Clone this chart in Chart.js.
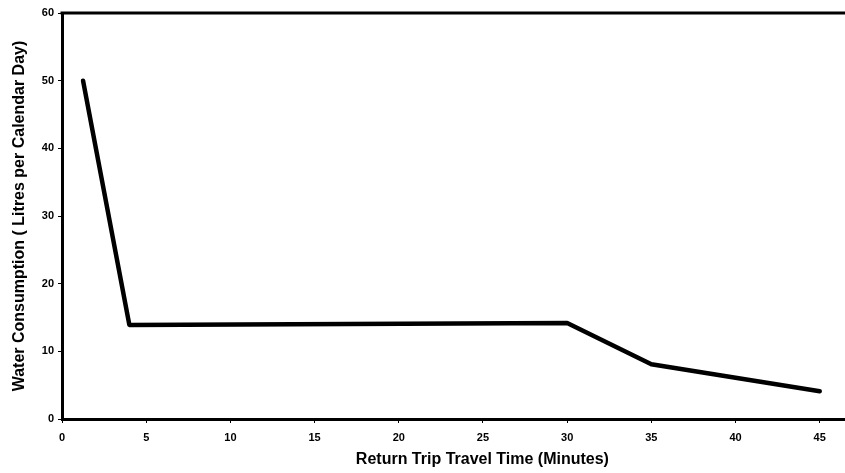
<!DOCTYPE html>
<html>
<head>
<meta charset="utf-8">
<script src="https://cdn.jsdelivr.net/npm/chart.js@4"></script>
<style>
  html, body { margin: 0; padding: 0; background: #fff; }
  #wrap { width: 845px; height: 473px; }
</style>
</head>
<body>
<div id="wrap"><canvas id="grafico"></canvas></div>
<script>
// values
const tempoViagem = [1.25, 4, 30, 35, 45];
const consumoAgua = [50, 13.9, 14.2, 8.1, 4.1];
const ticksX = [0, 5, 10, 15, 20, 25, 30, 35, 40, 45];
const ticksY = [0, 10, 20, 30, 40, 50, 60];

const pontos = tempoViagem.map((t, i) => ({ x: t, y: consumoAgua[i] }));

// top border of the frame
const bordaTopo = {
    id: "bordaTopo",
    afterDraw(chart) {
        const { ctx, chartArea } = chart;
        ctx.save();
        ctx.strokeStyle = "#000";
        ctx.lineWidth = 3;
        ctx.beginPath();
        ctx.moveTo(chartArea.left - 1.5, chartArea.top);
        ctx.lineTo(chart.width, chartArea.top);
        ctx.stroke();
        ctx.restore();
    }
};

const fonteTick = { family: "Liberation Sans, Arial, sans-serif", size: 11, weight: "bold" };
const fonteTitulo = { family: "Liberation Sans, Arial, sans-serif", size: 16, weight: "bold" };

new Chart(document.getElementById("grafico").getContext("2d"), {
    type: "line",
    data: {
        datasets: [{
            data: pontos,
            borderColor: "#000",
            borderWidth: 4.5,
            pointRadius: 0,
            tension: 0,
            borderJoinStyle: "round",
            borderCapStyle: "round"
        }]
    },
    options: {
        responsive: true,
        maintainAspectRatio: false,
        animation: false,
        layout: { padding: { top: 13, right: 0, left: 0, bottom: 0 } },
        plugins: { legend: { display: false }, tooltip: { enabled: false } },
        scales: {
            x: {
                type: "linear",
                min: 0,
                max: 46.5,
                afterBuildTicks: s => { s.ticks = ticksX.map(v => ({ value: v })); },
                afterFit: s => { s.height = 54; },
                border: { color: "#000", width: 3 },
                grid: { drawOnChartArea: false, color: "#000", tickLength: 4, lineWidth: 1 },
                ticks: { color: "#000", font: fonteTick, padding: 8, maxRotation: 0 },
                title: {
                    display: true,
                    // leading spaces push the title a bit right, as in the original
                    text: "             Return Trip Travel Time (Minutes)",
                    color: "#000",
                    font: fonteTitulo,
                    padding: { top: 7 }
                }
            },
            y: {
                min: 0,
                max: 60,
                afterBuildTicks: s => { s.ticks = ticksY.map(v => ({ value: v })); },
                afterFit: s => { s.width = 62; },
                border: { color: "#000", width: 3 },
                grid: { drawOnChartArea: false, color: "#000", tickLength: 4, lineWidth: 1 },
                ticks: { color: "#000", font: fonteTick, padding: 4 },
                title: {
                    display: true,
                    text: "Water Consumption ( Litres per Calendar Day)",
                    color: "#000",
                    font: fonteTitulo,
                    padding: { top: 10, bottom: 2 }
                }
            }
        }
    },
    plugins: [bordaTopo]
});
</script>
</body>
</html>
